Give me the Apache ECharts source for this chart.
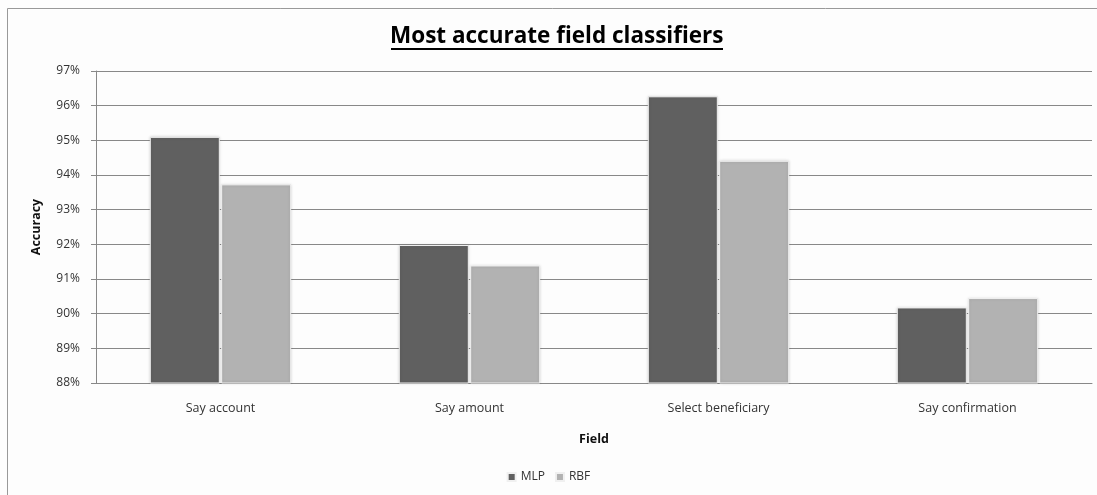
<!DOCTYPE html>
<html>
<head>
<meta charset="utf-8">
<script src="https://cdn.jsdelivr.net/npm/echarts@6/dist/echarts.min.js"></script>
<style>
html,body{margin:0;padding:0;background:#fff;}
#chart{width:1097px;height:495px;}
</style>
</head>
<body>
<div id="chart"></div>
<script>
const categories = ['Say account', 'Say amount', 'Select beneficiary', 'Say confirmation'];
const mlpValues = [95.10, 91.98, 96.27, 90.18];
const rbfValues = [93.73, 91.39, 94.41, 90.45];
const seriesNames = ['MLP', 'RBF'];
const titleText = 'Most accurate field classifiers';
const xAxisTitle = 'Field';
const yAxisTitle = 'Accuracy';

const chart = echarts.init(document.getElementById('chart'), null, {renderer: 'canvas'});
const font = "'Open Sans', 'Noto Sans', sans-serif";
const option = {
  backgroundColor: '#fdfdfd',
  animation: false,
  title: {
    text: titleText,
    left: 385,
    top: 20,
    textStyle: {fontFamily: font, fontSize: 22.5, fontWeight: 'bold', color: '#000'}
  },
  graphic: [
    {type: 'rect', shape: {x: 7.5, y: 8.5, width: 1200, height: 600}, style: {fill: 'none', stroke: '#999', lineWidth: 1}, silent: true},
    {type: 'rect', shape: {x: 391, y: 48, width: 332, height: 2}, style: {fill: '#000'}, silent: true}
  ],
  legend: {
    data: seriesNames,
    bottom: 7,
    left: 'center',
    itemWidth: 8,
    itemHeight: 8,
    itemGap: 10,
    icon: 'rect',
    textStyle: {fontFamily: font, fontSize: 12, color: '#333'}
  },
  grid: {left: 96, right: 5, top: 71, bottom: 112, containLabel: false},
  xAxis: {
    type: 'category',
    data: categories,
    name: xAxisTitle,
    nameLocation: 'middle',
    nameGap: 50,
    nameTextStyle: {fontFamily: font, fontSize: 12.5, fontWeight: 'bold', color: '#111'},
    axisLine: {lineStyle: {color: '#888', width: 1}},
    axisTick: {show: false},
    axisLabel: {fontFamily: font, fontSize: 12.5, color: '#333', margin: 19}
  },
  yAxis: {
    type: 'value',
    min: 88,
    max: 97,
    interval: 1,
    name: yAxisTitle,
    nameLocation: 'middle',
    nameGap: 53,
    nameRotate: 90,
    nameTextStyle: {fontFamily: font, fontSize: 12.5, fontWeight: 'bold', color: '#111'},
    axisLine: {show: true, lineStyle: {color: '#888'}},
    axisTick: {show: true, length: 5, lineStyle: {color: '#888'}},
    splitLine: {lineStyle: {color: '#888', width: 1}},
    axisLabel: {fontFamily: font, fontSize: 12, color: '#333', margin: 16, formatter: v => v + '%'}
  },
  series: [
    {
      name: seriesNames[0], type: 'bar', data: mlpValues, barWidth: 70, barGap: '2%',
      itemStyle: {color: '#606060', borderColor: '#f0f0f0', borderWidth: 1, shadowColor: 'rgba(0,0,0,0.15)', shadowBlur: 3}
    },
    {
      name: seriesNames[1], type: 'bar', data: rbfValues, barWidth: 70, barGap: '2%',
      itemStyle: {color: '#b2b2b2', borderColor: '#f0f0f0', borderWidth: 1, shadowColor: 'rgba(0,0,0,0.15)', shadowBlur: 3}
    }
  ]
};
chart.setOption(option);
</script>
</body>
</html>
